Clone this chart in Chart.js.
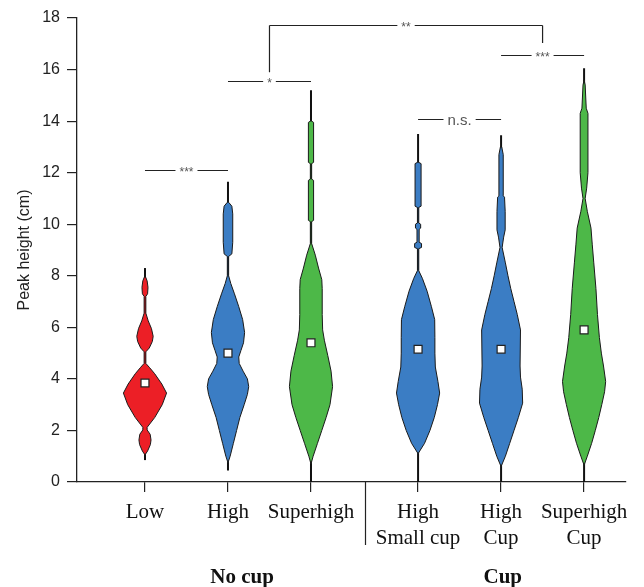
<!DOCTYPE html>
<html>
<head>
<meta charset="utf-8">
<script src="https://cdn.jsdelivr.net/npm/chart.js@4.4.1/dist/chart.umd.min.js"></script>
<style>
  html, body { margin: 0; padding: 0; background: #fff; }
  #wrap { width: 644px; height: 587px; position: relative; }
</style>
</head>
<body>
<div id="wrap"><canvas id="chart"></canvas></div>
<script>
const categories = [["Low"], ["High"], ["Superhigh"], ["High", "Small cup"], ["High", "Cup"], ["Superhigh", "Cup"]]
const positions = [1, 2, 3, 4.29, 5.29, 6.29]
const groups = ["No cup", "Cup"]
const groupPositions = [2.17, 5.31]
const medians = [3.84, 5.0, 5.4, 5.15, 5.15, 5.9]
const rangeMin = [0.85, 0.45, 0, 0, 0, 0]
const rangeMax = [8.3, 11.65, 15.2, 13.5, 13.45, 16.05]

// density profiles: [peak height, relative density]
const lowProfile = [[1.05,0],[1.2,0.12],[1.45,0.25],[1.63,0.28],[1.85,0.24],[2.02,0.1],[2.12,0.1],[2.5,0.45],[3.0,0.8],[3.45,1.0],[3.8,0.78],[4.2,0.45],[4.45,0.2],[4.6,0.04],[5.05,0.04],[5.2,0.2],[5.45,0.34],[5.65,0.38],[5.95,0.3],[6.25,0.15],[6.55,0.04],[7.2,0.04],[7.3,0.12],[7.55,0.14],[7.8,0.1],[7.95,0.03]]
const highProfile = [[0.75,0],[1.0,0.1],[1.5,0.25],[2.0,0.4],[2.5,0.55],[3.0,0.75],[3.4,0.9],[3.7,0.96],[4.0,0.9],[4.3,0.7],[4.6,0.52],[4.85,0.5],[5.1,0.6],[5.4,0.72],[5.8,0.77],[6.3,0.68],[6.8,0.5],[7.3,0.3],[7.7,0.13],[8.0,0.03],[8.75,0.03],[8.85,0.18],[9.3,0.22],[10.4,0.22],[10.7,0.18],[10.85,0.03]]
const superhighProfile = [[0.7,0],[1.0,0.1],[1.5,0.3],[2.0,0.5],[2.5,0.7],[3.0,0.88],[3.7,1.0],[4.3,0.93],[4.9,0.78],[5.5,0.62],[5.9,0.54],[6.5,0.52],[7.5,0.52],[7.85,0.5],[8.3,0.35],[8.8,0.2],[9.25,0.03],[10.1,0.03],[10.15,0.12],[11.7,0.12],[11.75,0.03],[12.35,0.03],[12.4,0.12],[13.95,0.12],[14.0,0.03]]
const smallCupProfile = [[1.1,0],[1.5,0.3],[2.0,0.55],[2.5,0.75],[3.0,0.9],[3.45,1.0],[3.9,0.92],[4.46,0.8],[5.0,0.78],[5.6,0.78],[6.3,0.77],[6.8,0.62],[7.4,0.42],[7.9,0.2],[8.2,0.03],[9.05,0.03],[9.1,0.16],[9.25,0.16],[9.3,0.05],[9.8,0.05],[9.85,0.12],[10.0,0.12],[10.05,0.03],[10.65,0.03],[10.7,0.14],[12.35,0.14],[12.4,0.03]]
const highCupProfile = [[0.6,0],[1.0,0.2],[1.5,0.4],[2.0,0.6],[2.5,0.8],[3.06,1.0],[3.6,0.98],[4.07,0.9],[4.5,0.88],[5.9,0.9],[6.5,0.75],[7.0,0.6],[7.5,0.45],[8.0,0.32],[8.5,0.2],[9.1,0.05],[9.5,0.12],[9.78,0.19],[10.5,0.19],[11.05,0.16],[11.1,0.1],[12.7,0.1],[13.0,0.03]]
const superhighCupProfile = [[0.65,0],[1.0,0.15],[1.5,0.35],[2.0,0.52],[2.5,0.68],[3.0,0.82],[3.5,0.95],[3.9,1.0],[4.5,0.9],[5.0,0.8],[5.6,0.71],[6.5,0.62],[7.5,0.55],[8.5,0.45],[9.2,0.38],[9.85,0.32],[10.5,0.15],[11.0,0.05],[11.4,0.12],[12.0,0.18],[14.3,0.18],[14.5,0.1],[15.4,0.05],[15.6,0]]
const profiles = [lowProfile, highProfile, superhighProfile, smallCupProfile, highCupProfile, superhighCupProfile]

// significance brackets
const bracketFrom = [1, 2, 4.29, 5.29, 2.5]
const bracketTo = [2, 3, 5.29, 6.29, 5.79]
const bracketY = [12.1, 15.55, 14.1, 16.56, 17.73]
const bracketLabels = ["***", "*", "n.s.", "***", "**"]
const bracketDropTo = [null, null, null, null, [15.9, 17.03]]

const RED = "#ec1f26", BLUE = "#3b7dc4", GREEN = "#4db848"
const violinColors = [RED, BLUE, GREEN, BLUE, BLUE, GREEN]
const HALF_WIDTH = 0.26

const violinPlugin = {
  id: "violins",
  beforeDatasetsDraw(chart) {
    const { ctx, scales: { x, y } } = chart
    ctx.save()
    positions.forEach((pos, i) => {
      const px = x.getPixelForValue(pos)
      ctx.strokeStyle = "#111"
      ctx.lineWidth = 2
      ctx.beginPath()
      ctx.moveTo(px, y.getPixelForValue(rangeMin[i]))
      ctx.lineTo(px, y.getPixelForValue(rangeMax[i]))
      ctx.stroke()

      const prof = profiles[i]
      ctx.beginPath()
      prof.forEach(([v, d], j) => {
        const xx = x.getPixelForValue(pos + d * HALF_WIDTH)
        const yy = y.getPixelForValue(v)
        if (j === 0) ctx.moveTo(xx, yy); else ctx.lineTo(xx, yy)
      })
      for (let j = prof.length - 1; j >= 0; j--) {
        ctx.lineTo(x.getPixelForValue(pos - prof[j][1] * HALF_WIDTH), y.getPixelForValue(prof[j][0]))
      }
      ctx.closePath()
      ctx.fillStyle = violinColors[i]
      ctx.fill()
      ctx.strokeStyle = "#1a1a1a"
      ctx.lineWidth = 1
      ctx.stroke()
    })
    ctx.restore()
  },
  afterDraw(chart) {
    const { ctx, scales: { x, y }, chartArea } = chart
    ctx.save()
    // brackets
    bracketLabels.forEach((label, i) => {
      const x1 = x.getPixelForValue(bracketFrom[i])
      const x2 = x.getPixelForValue(bracketTo[i])
      const yy = Math.round(y.getPixelForValue(bracketY[i])) + 0.5
      const isNs = label === "n.s."
      ctx.font = isNs ? "15px 'Liberation Sans'" : "12px 'Liberation Sans'"
      const tw = ctx.measureText(label).width
      const mid = (x1 + x2) / 2
      const gap = tw / 2 + 4
      ctx.strokeStyle = "#222"
      ctx.lineWidth = 1.2
      ctx.beginPath()
      ctx.moveTo(x1, yy); ctx.lineTo(mid - gap, yy)
      ctx.moveTo(mid + gap, yy); ctx.lineTo(x2, yy)
      const drops = bracketDropTo[i]
      if (drops) {
        ctx.moveTo(x1, yy); ctx.lineTo(x1, y.getPixelForValue(drops[0]))
        ctx.moveTo(x2, yy); ctx.lineTo(x2, y.getPixelForValue(drops[1]))
      }
      ctx.stroke()
      ctx.fillStyle = "#555"
      ctx.textAlign = "center"
      ctx.textBaseline = "middle"
      ctx.fillText(label, mid, isNs ? yy + 1 : yy + 2)
    })
    // group separator
    const sx = Math.round(x.getPixelForValue((positions[2] + positions[3]) / 2)) + 0.5
    ctx.strokeStyle = "#222"
    ctx.lineWidth = 1.2
    ctx.beginPath()
    ctx.moveTo(sx, chartArea.bottom)
    ctx.lineTo(sx, chartArea.bottom + 63)
    ctx.stroke()
    // group labels
    ctx.fillStyle = "#111"
    ctx.font = "bold 21px 'Liberation Serif'"
    ctx.textAlign = "center"
    ctx.textBaseline = "middle"
    groups.forEach((g, i) => {
      ctx.fillText(g, x.getPixelForValue(groupPositions[i]), chartArea.bottom + 96)
    })
    ctx.restore()
  }
}

new Chart(document.getElementById("chart"), {
  type: "scatter",
  data: {
    datasets: [{
      label: "Median",
      data: positions.map((p, i) => ({ x: p, y: medians[i] })),
      pointStyle: "rect",
      pointRadius: 5.6,
      backgroundColor: "#fff",
      borderColor: "#222",
      borderWidth: 1.2
    }]
  },
  options: {
    responsive: true,
    maintainAspectRatio: false,
    animation: false,
    layout: { padding: { top: 18, right: 18, left: 0, bottom: 0 } },
    plugins: {
      legend: { display: false },
      tooltip: { enabled: false }
    },
    scales: {
      x: {
        type: "linear",
        min: 0.181,
        max: 6.795,
        afterBuildTicks: s => { s.ticks = positions.map(v => ({ value: v })) },
        afterFit: s => { s.height = 105 },
        ticks: {
          autoSkip: false,
          maxRotation: 0,
          padding: 7,
          color: "#111",
          font: { family: "'Liberation Serif'", size: 21, lineHeight: 1.25 },
          callback: (v, i) => categories[i]
        },
        grid: { drawOnChartArea: false, tickLength: 10, color: "#222", lineWidth: 1.2 },
        border: { color: "#222", width: 1.3 }
      },
      y: {
        min: 0,
        max: 18,
        afterFit: s => { s.width = 77 },
        ticks: {
          stepSize: 2,
          padding: 7,
          color: "#222",
          font: { family: "'Liberation Sans'", size: 16 }
        },
        grid: { drawOnChartArea: false, tickLength: 10, color: "#222", lineWidth: 1.2 },
        border: { color: "#222", width: 1.3 },
        title: {
          display: true,
          text: "Peak height (cm)",
          color: "#222",
          font: { family: "'Liberation Sans'", size: 16 },
          padding: { top: 15, bottom: 0 }
        }
      }
    }
  },
  plugins: [violinPlugin]
})
</script>
</body>
</html>
